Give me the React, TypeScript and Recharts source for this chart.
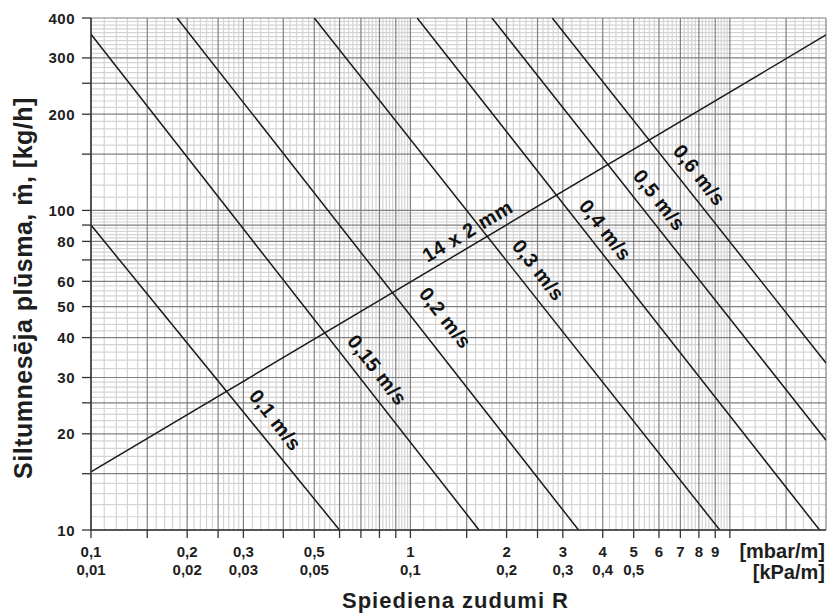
import React from 'react';
import { LineChart, Line, XAxis, YAxis, CartesianGrid, ReferenceDot } from 'recharts';

const FONT = '"Liberation Sans", Arial, Helvetica, sans-serif';
const TEXT = '#1e1e1e';

// Velocity lines (R in mbar/m, mass flow in kg/h)
const velocityLabels = ['0,1 m/s', '0,15 m/s', '0,2 m/s', '0,3 m/s', '0,4 m/s', '0,5 m/s', '0,6 m/s'];
const velocityStartR = [0.1, 0.1, 0.186, 0.5, 1.05, 1.8, 2.78];
const velocityStartM = [90, 356, 400, 400, 400, 400, 400];
const velocityEndR = [0.6, 1.64, 3.36, 9.3, 19.1, 20, 20];
const velocityEndM = [10, 10, 10, 10, 10, 19.1, 33.3];
const velocityLabelR = [0.378, 0.788, 1.287, 2.517, 4.08, 6.02, 8.03];
const velocityLabelM = [22.1, 31.7, 46.1, 65.1, 86.8, 107.8, 129];

// Pipe line
const pipeLabel = '14 x 2 mm';
const pipeR = [0.1, 20];
const pipeM = [15.2, 354];
const pipeLabelR = 1.508;
const pipeLabelM = 86.2;

// Axis ticks
const xTicks = [0.1, 0.15, 0.2, 0.25, 0.3, 0.4, 0.5, 0.6, 0.7, 0.8, 0.9, 1, 1.5, 2, 2.5, 3, 4, 5, 6, 7, 8, 9, 10];
const xTickMbar = ['0,1', '', '0,2', '', '0,3', '', '0,5', '', '', '', '', '1', '', '2', '', '3', '4', '5', '6', '7', '8', '9', ''];
const xTickKpa = ['0,01', '', '0,02', '', '0,03', '', '0,05', '', '', '', '', '0,1', '', '0,2', '', '0,3', '0,4', '0,5', '', '', '', '', ''];
const yTicks = [10, 15, 20, 25, 30, 40, 50, 60, 70, 80, 90, 100, 150, 200, 250, 300, 400];
const yTickLabels = ['10', '', '20', '', '30', '40', '50', '60', '', '80', '', '100', '', '200', '', '300', '400'];

// Grid (graph paper)
const xMajor = [0.1, 0.15, 0.2, 0.25, 0.3, 0.4, 0.5, 0.6, 0.7, 0.8, 0.9, 1, 1.5, 2, 2.5, 3, 4, 5, 6, 7, 8, 9, 10, 15, 20];
const yMajor = [10, 15, 20, 25, 30, 40, 50, 60, 70, 80, 90, 100, 150, 200, 250, 300, 400];

function steps(from: number, to: number, step: number, scale: number, skip: number[]): number[] {
  const out: number[] = [];
  for (let v = from; v <= to; v += step) {
    const val = v / scale;
    if (!skip.some((s) => Math.abs(s - val) < 1e-9)) out.push(val);
  }
  return out;
}
const xMinor = [
  ...steps(10, 30, 1, 100, xMajor),
  ...steps(30, 100, 2, 100, xMajor),
  ...steps(10, 30, 1, 10, xMajor),
  ...steps(30, 100, 2, 10, xMajor),
  ...steps(10, 20, 1, 1, xMajor),
];
const yMinor = [
  ...steps(10, 30, 1, 1, yMajor),
  ...steps(30, 100, 2, 1, yMajor),
  ...steps(100, 400, 10, 1, yMajor),
];

const VEL_ANGLE = 52;
const PIPE_ANGLE = -30.7;

function XTick(props: any) {
  const { x, y, payload } = props;
  const i = xTicks.indexOf(payload.value);
  const a = i >= 0 ? xTickMbar[i] : '';
  const b = i >= 0 ? xTickKpa[i] : '';
  const common = { textAnchor: 'middle' as const, fontFamily: FONT, fontWeight: 'bold', fontSize: 15, fill: TEXT };
  return (
    <g>
      {a ? <text x={x} y={y + 17} {...common}>{a}</text> : null}
      {b ? <text x={x} y={y + 35} {...common}>{b}</text> : null}
    </g>
  );
}

function YTick(props: any) {
  const { x, y, payload } = props;
  const i = yTicks.indexOf(payload.value);
  const a = i >= 0 ? yTickLabels[i] : '';
  if (!a) return <g />;
  return (
    <text x={x - 5} y={y + 5.5} textAnchor="end" fontFamily={FONT} fontWeight="bold" fontSize={15} letterSpacing={0.5} fill={TEXT}>
      {a}
    </text>
  );
}

function XTitle(props: any) {
  const vb = props.viewBox || { x: 91, y: 530, width: 735, height: 84 };
  const right = vb.x + vb.width - 1;
  return (
    <g fontFamily={FONT} fontWeight="bold" fill={TEXT}>
      <text x={right} y={vb.y + 28} textAnchor="end" fontSize={20}>[mbar/m]</text>
      <text x={right} y={vb.y + 49} textAnchor="end" fontSize={20}>[kPa/m]</text>
      <text x={vb.x + vb.width / 2 - 3} y={vb.y + 78} textAnchor="middle" fontSize={22} letterSpacing={1}>Spiediena zudumi R</text>
    </g>
  );
}

function YTitle(props: any) {
  const vb = props.viewBox || { x: 0, y: 18, width: 91, height: 512 };
  const cx = vb.x + 32;
  const cy = vb.y + 270;
  return (
    <text x={cx} y={cy} transform={`rotate(-90 ${cx} ${cy})`} textAnchor="middle" fontFamily={FONT} fontWeight="bold" fontSize={25} letterSpacing={0.5} fill={TEXT}>
      Siltumnesēja plūsma, ṁ, [kg/h]
    </text>
  );
}

function rotatedLabel(text: string, angle: number) {
  return (p: any) => (
    <text
      x={p.cx}
      y={p.cy}
      transform={`rotate(${angle} ${p.cx} ${p.cy})`}
      textAnchor="middle"
      dominantBaseline="central"
      fontFamily={FONT}
      fontWeight="bold"
      fontSize={20}
      letterSpacing={0.5}
      fill="#111"
    >
      {text}
    </text>
  );
}

const velocitySeries = velocityLabels.map((name, i) => ({
  name,
  data: [
    { x: velocityStartR[i], y: velocityStartM[i] },
    { x: velocityEndR[i], y: velocityEndM[i] },
  ],
}));
const pipeSeries = pipeR.map((r, i) => ({ x: r, y: pipeM[i] }));

export default function App() {
  return (
    <div style={{ position: 'absolute', left: 0, top: 0, width: 828, height: 614, background: '#fff' }}>
      <LineChart width={828} height={614} margin={{ top: 18, right: 2, bottom: 0, left: 0 }}>
        <CartesianGrid horizontalValues={yMinor} verticalValues={xMinor} stroke="#d4d4d4" strokeWidth={1.2} />
        <CartesianGrid horizontalValues={yMajor} verticalValues={xMajor} stroke="#808080" strokeWidth={1.2} />
        <XAxis
          type="number"
          dataKey="x"
          scale="log"
          domain={[0.1, 20]}
          allowDataOverflow
          ticks={xTicks}
          interval={0}
          height={84}
          tickSize={8}
          tickLine={{ stroke: '#333', strokeWidth: 1.3 }}
          axisLine={{ stroke: '#333', strokeWidth: 1.5 }}
          tick={<XTick />}
          label={XTitle}
        />
        <YAxis
          type="number"
          dataKey="y"
          scale="log"
          domain={[10, 400]}
          allowDataOverflow
          ticks={yTicks}
          interval={0}
          width={91}
          tickSize={9}
          tickLine={{ stroke: '#333', strokeWidth: 1.3 }}
          axisLine={{ stroke: '#333', strokeWidth: 1.5 }}
          tick={<YTick />}
          label={YTitle}
        />
        {velocitySeries.map((s) => (
          <Line
            key={s.name}
            data={s.data}
            dataKey="y"
            type="linear"
            stroke="#1a1a1a"
            strokeWidth={1.5}
            dot={false}
            activeDot={false}
            isAnimationActive={false}
          />
        ))}
        <Line data={pipeSeries} dataKey="y" type="linear" stroke="#1a1a1a" strokeWidth={1.5} dot={false} activeDot={false} isAnimationActive={false} />
        {velocityLabels.map((name, i) => (
          <ReferenceDot key={'l' + name} x={velocityLabelR[i]} y={velocityLabelM[i]} r={0} shape={rotatedLabel(name, VEL_ANGLE)} />
        ))}
        <ReferenceDot x={pipeLabelR} y={pipeLabelM} r={0} shape={rotatedLabel(pipeLabel, PIPE_ANGLE)} />
      </LineChart>
    </div>
  );
}
